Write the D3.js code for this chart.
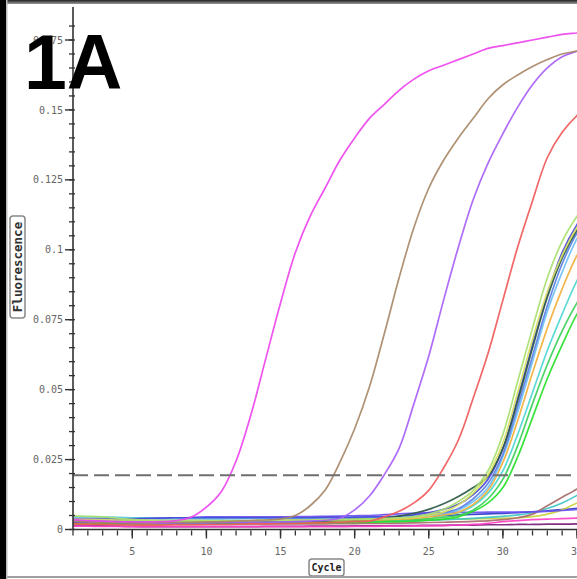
<!DOCTYPE html>
<html>
<head>
<meta charset="utf-8">
<script src="https://cdn.jsdelivr.net/npm/d3@7"></script>
<style>
  html, body { margin: 0; padding: 0; background: #ffffff; }
  svg { display: block; }
</style>
</head>
<body>
<div id="chart"></div>
<script>
// Amplification run: fluorescence per cycle for each well
const cycles = [1,2,3,4,5,6,7,8,9,10,11,12,13,14,15,16,17,18,19,20,21,22,23,24,25,26,27,28,29,30,31,32,33,34,35,36];

const yTicks = [0, 0.025, 0.05, 0.075, 0.1, 0.125, 0.15, 0.175];
const yTickLabels = ["0", "0.025", "0.05", "0.075", "0.1", "0.125", "0.15", "0.175"];
const xTicks = [5, 10, 15, 20, 25, 30, 35];
const xTickLabels = ["5", "10", "15", "20", "25", "30", "35"];
const threshold = 0.0194;

const wellMagenta = [0.0035,0.0032,0.003,0.0028,0.0027,0.0027,0.0028,0.0032,0.0045,0.008,0.0135,0.0245,0.041,0.061,0.081,0.099,0.112,0.122,0.132,0.140,0.147,0.152,0.157,0.161,0.164,0.166,0.168,0.170,0.172,0.173,0.174,0.175,0.176,0.177,0.1775,0.178];
const wellBrown = [0.003,0.0028,0.0026,0.0025,0.0024,0.0024,0.0025,0.0025,0.0026,0.0027,0.0028,0.003,0.0032,0.0034,0.0038,0.005,0.0085,0.014,0.024,0.036,0.051,0.070,0.090,0.108,0.122,0.132,0.140,0.147,0.154,0.159,0.1625,0.1655,0.168,0.170,0.171,0.172];
const wellPurple = [0.0028,0.0027,0.0026,0.0025,0.0024,0.0023,0.0023,0.0023,0.0024,0.0024,0.0025,0.0025,0.0026,0.0026,0.0027,0.0028,0.003,0.0033,0.004,0.007,0.012,0.0196,0.029,0.045,0.062,0.082,0.101,0.118,0.131,0.1415,0.151,0.159,0.165,0.169,0.171,0.173];
const wellRed = [0.002,0.0019,0.0018,0.0017,0.0016,0.0016,0.0016,0.0017,0.0017,0.0018,0.0018,0.0019,0.002,0.002,0.0021,0.0022,0.0023,0.0024,0.0026,0.0028,0.003,0.0045,0.0065,0.0095,0.014,0.022,0.032,0.047,0.063,0.082,0.101,0.1175,0.133,0.142,0.148,0.152];

const wellLightGreen = [0.0048,0.0047,0.0045,0.004,0.0036,0.0033,0.0031,0.003,0.003,0.003,0.003,0.0031,0.0031,0.0032,0.0032,0.0033,0.0033,0.0034,0.0035,0.0036,0.0037,0.0039,0.0042,0.0046,0.0055,0.0072,0.010,0.014,0.021,0.034,0.053,0.072,0.090,0.103,0.112,0.119];
const wellYellow = [0.0036,0.0036,0.0035,0.0034,0.0034,0.0033,0.0033,0.0033,0.0033,0.0032,0.0032,0.0032,0.0032,0.0033,0.0033,0.0034,0.0034,0.0035,0.0035,0.0036,0.0037,0.0038,0.004,0.0043,0.005,0.0062,0.0088,0.013,0.0195,0.031,0.049,0.068,0.085,0.098,0.108,0.115];
const wellDarkGreen = [0.0026,0.0026,0.0025,0.0025,0.0024,0.0024,0.0024,0.0024,0.0025,0.0025,0.0025,0.0026,0.0026,0.0027,0.0028,0.0029,0.003,0.0031,0.0033,0.0035,0.0037,0.004,0.0048,0.0058,0.0072,0.0092,0.0118,0.015,0.019,0.029,0.046,0.065,0.083,0.097,0.107,0.114];
const wellDarkBlue = [0.0035,0.0035,0.0036,0.0037,0.0038,0.004,0.0041,0.0042,0.0042,0.0042,0.0042,0.0042,0.0042,0.0042,0.0042,0.0042,0.0042,0.0043,0.0043,0.0044,0.0045,0.0046,0.0048,0.0052,0.006,0.0072,0.009,0.0125,0.018,0.029,0.047,0.066,0.084,0.099,0.109,0.116];
const wellBlue = [0.003,0.003,0.0029,0.0029,0.0028,0.0028,0.0028,0.0028,0.0029,0.0029,0.003,0.003,0.0031,0.0031,0.0032,0.0032,0.0033,0.0034,0.0035,0.0036,0.0037,0.0039,0.0042,0.0046,0.0052,0.006,0.0075,0.011,0.0165,0.027,0.044,0.062,0.080,0.095,0.106,0.113];
const wellLightBlue = [0.0045,0.0044,0.0043,0.0042,0.004,0.0038,0.0037,0.0036,0.0036,0.0036,0.0037,0.0038,0.0039,0.004,0.004,0.0041,0.0041,0.0042,0.0042,0.0043,0.0043,0.0044,0.0045,0.0047,0.005,0.0058,0.007,0.010,0.015,0.026,0.042,0.060,0.078,0.092,0.104,0.112];
const wellOrange = [0.0025,0.0025,0.0025,0.0025,0.0026,0.0026,0.0026,0.0027,0.0027,0.0027,0.0028,0.0028,0.0028,0.0029,0.0029,0.003,0.003,0.0031,0.0032,0.0033,0.0034,0.0035,0.0037,0.004,0.0045,0.0052,0.0062,0.009,0.014,0.024,0.039,0.056,0.072,0.086,0.098,0.106];
const wellCyan = [0.0046,0.0045,0.0044,0.0043,0.0042,0.0041,0.0041,0.0041,0.0041,0.0041,0.0041,0.0041,0.0041,0.0041,0.0041,0.0042,0.0042,0.0042,0.0042,0.0043,0.0043,0.0044,0.0045,0.0046,0.0048,0.0052,0.006,0.0085,0.013,0.021,0.034,0.049,0.064,0.077,0.089,0.098];
const wellGreen = [0.0035,0.0034,0.0033,0.0032,0.0031,0.003,0.003,0.003,0.0029,0.0029,0.0029,0.0029,0.0029,0.003,0.003,0.003,0.0031,0.0031,0.0031,0.0032,0.0032,0.0033,0.0034,0.0036,0.0039,0.0044,0.005,0.007,0.011,0.018,0.030,0.045,0.059,0.071,0.081,0.089];
const wellBrightGreen = [0.002,0.002,0.002,0.002,0.002,0.0021,0.0021,0.0021,0.0021,0.0022,0.0022,0.0022,0.0022,0.0023,0.0023,0.0023,0.0024,0.0024,0.0025,0.0025,0.0026,0.0027,0.0028,0.003,0.0033,0.0037,0.0045,0.0065,0.0095,0.015,0.026,0.040,0.054,0.066,0.077,0.085];

const wellViolet = [0.004,0.004,0.004,0.004,0.004,0.004,0.004,0.004,0.0043,0.0045,0.0045,0.0045,0.0045,0.0045,0.0045,0.0046,0.0046,0.0047,0.0048,0.0049,0.005,0.0053,0.0056,0.0058,0.006,0.006,0.0061,0.0061,0.0062,0.0062,0.0062,0.0063,0.0065,0.0068,0.0072,0.0076];
const wellLateBrown = [0.0022,0.0022,0.0021,0.0021,0.002,0.002,0.002,0.002,0.002,0.002,0.002,0.002,0.002,0.002,0.002,0.002,0.002,0.002,0.0021,0.0021,0.0022,0.0022,0.0023,0.0024,0.0025,0.0026,0.0027,0.0029,0.0031,0.0035,0.0042,0.0055,0.0085,0.0115,0.0145,0.018];
const wellLateCyan = [0.0025,0.0025,0.0025,0.0024,0.0024,0.0024,0.0024,0.0024,0.0024,0.0024,0.0024,0.0024,0.0024,0.0025,0.0025,0.0025,0.0025,0.0026,0.0026,0.0027,0.0028,0.0029,0.003,0.0031,0.0033,0.0035,0.0037,0.004,0.0043,0.0047,0.0052,0.006,0.0075,0.0095,0.0122,0.0155];
const wellLateYellow = [0.003,0.003,0.003,0.003,0.003,0.003,0.003,0.0031,0.0031,0.0031,0.0031,0.0031,0.0031,0.0032,0.0032,0.0032,0.0032,0.0033,0.0033,0.0033,0.0034,0.0034,0.0035,0.0035,0.0036,0.0036,0.0037,0.0038,0.0039,0.004,0.0042,0.0046,0.0055,0.007,0.0095,0.012];
const wellLateBlue = [0.0028,0.0028,0.0028,0.0028,0.0028,0.0029,0.0029,0.0029,0.003,0.003,0.003,0.0031,0.0031,0.0032,0.0033,0.0034,0.0035,0.0036,0.0037,0.0038,0.004,0.0042,0.0044,0.0046,0.0048,0.005,0.0052,0.0054,0.0056,0.0058,0.006,0.0063,0.0067,0.0071,0.0076,0.0082];
const wellPink = [0.0012,0.0012,0.0011,0.0011,0.001,0.001,0.001,0.001,0.001,0.001,0.001,0.001,0.001,0.001,0.001,0.001,0.001,0.001,0.001,0.0011,0.0011,0.0012,0.0012,0.0013,0.0013,0.0014,0.0016,0.0018,0.0022,0.0028,0.0032,0.0035,0.0037,0.0039,0.0041,0.0044];
const wellDarkPurple = [0.0015,0.0014,0.0013,0.0012,0.0011,0.001,0.001,0.001,0.001,0.001,0.001,0.001,0.001,0.0011,0.0011,0.0011,0.0012,0.0012,0.0012,0.0013,0.0013,0.0013,0.0014,0.0014,0.0015,0.0015,0.0016,0.0016,0.0017,0.0017,0.0018,0.0018,0.0019,0.0019,0.002,0.002];

// Drawing order (back to front) with trace colours
const wells = [
  { values: wellDarkPurple, color: "#7a1f7a" },
  { values: wellPink, color: "#ff40c8" },
  { values: wellLateBlue, color: "#2b3bc8" },
  { values: wellLateYellow, color: "#cad23e" },
  { values: wellLateCyan, color: "#3ec4c4" },
  { values: wellLateBrown, color: "#a86a6a" },
  { values: wellViolet, color: "#6a50f0" },
  { values: wellBrightGreen, color: "#28e02a" },
  { values: wellGreen, color: "#3ccf5a" },
  { values: wellCyan, color: "#4fd6d2" },
  { values: wellOrange, color: "#f2b03c" },
  { values: wellLightBlue, color: "#6fc0f4" },
  { values: wellBlue, color: "#5b7fe6" },
  { values: wellDarkBlue, color: "#4848d8" },
  { values: wellDarkGreen, color: "#2d5a46" },
  { values: wellYellow, color: "#d8e060" },
  { values: wellLightGreen, color: "#a8e070" },
  { values: wellRed, color: "#f05a5a" },
  { values: wellPurple, color: "#a860f8" },
  { values: wellBrown, color: "#a88868" },
  { values: wellMagenta, color: "#ee44ee" }
];

const W = 577, H = 579;
const svg = d3.select("#chart").append("svg")
  .attr("width", W).attr("height", H)
  .style("overflow", "hidden");

svg.append("rect").attr("width", W).attr("height", H).attr("fill", "#ffffff");

const x = d3.scaleLinear().domain([1, 35]).range([73, 577]);
const y = d3.scaleLinear().domain([0, 0.175]).range([529.5, 40]);

// plot clip
svg.append("defs").append("clipPath").attr("id", "plotClip")
  .append("rect").attr("x", x(1)).attr("y", 0).attr("width", W - x(1)).attr("height", y(0));

const line = d3.line()
  .x((d, i) => x(cycles[i]))
  .y(d => y(d))
  .curve(d3.curveCatmullRom.alpha(0.5));

const traces = svg.append("g").attr("clip-path", "url(#plotClip)");
traces.selectAll("path.well")
  .data(wells)
  .join("path")
  .attr("class", "well")
  .attr("d", d => line(d.values))
  .attr("fill", "none")
  .attr("stroke", d => d.color)
  .attr("stroke-width", 1.7)
  .attr("stroke-opacity", 0.92)
  .attr("stroke-linejoin", "round");

// threshold
traces.append("line")
  .attr("x1", x(1)).attr("x2", W)
  .attr("y1", y(threshold)).attr("y2", y(threshold))
  .attr("stroke", "#6f6f6f")
  .attr("stroke-width", 2)
  .attr("stroke-dasharray", "15,6");

// Y axis
const yAxisG = svg.append("g").attr("transform", `translate(${x(1)},0)`);
yAxisG.append("line").attr("x1", 0).attr("x2", 0).attr("y1", 7).attr("y2", y(0) + 1)
  .attr("stroke", "#333").attr("stroke-width", 1.6);
const yMinor = d3.range(0, 37).map(i => i * 0.005).filter(v => y(v) > 6);
yAxisG.selectAll("line.minor").data(yMinor).join("line")
  .attr("class", "minor")
  .attr("x1", -4).attr("x2", 2)
  .attr("y1", d => y(d)).attr("y2", d => y(d))
  .attr("stroke", "#333").attr("stroke-width", 1.3);
yAxisG.selectAll("line.major").data(yTicks).join("line")
  .attr("class", "major")
  .attr("x1", -8).attr("x2", 0)
  .attr("y1", d => y(d)).attr("y2", d => y(d))
  .attr("stroke", "#333").attr("stroke-width", 1.4);
yAxisG.selectAll("text").data(yTicks).join("text")
  .attr("x", -10).attr("y", d => y(d))
  .attr("dy", "0.36em")
  .attr("text-anchor", "end")
  .attr("font-family", "DejaVu Sans Mono, monospace")
  .attr("font-size", 10)
  .attr("fill", "#666")
  .text((d, i) => yTickLabels[i]);

// X axis
const xAxisG = svg.append("g").attr("transform", `translate(0,${y(0)})`);
xAxisG.append("line").attr("x1", x(1)).attr("x2", W).attr("y1", 0).attr("y2", 0)
  .attr("stroke", "#333").attr("stroke-width", 1.6);
const xMinor = cycles.filter(c => c <= 35);
xAxisG.selectAll("line.minor").data(xMinor).join("line")
  .attr("class", "minor")
  .attr("x1", d => x(d)).attr("x2", d => x(d))
  .attr("y1", 1).attr("y2", 6)
  .attr("stroke", "#333").attr("stroke-width", 1.3);
xAxisG.selectAll("line.major").data(xTicks).join("line")
  .attr("class", "major")
  .attr("x1", d => x(d)).attr("x2", d => x(d))
  .attr("y1", 0).attr("y2", 9)
  .attr("stroke", "#333").attr("stroke-width", 1.4);
xAxisG.selectAll("text").data(xTicks).join("text")
  .attr("x", d => x(d)).attr("y", 25)
  .attr("text-anchor", "middle")
  .attr("font-family", "DejaVu Sans Mono, monospace")
  .attr("font-size", 10)
  .attr("fill", "#666")
  .text((d, i) => xTickLabels[i]);

// axis titles in boxes
const yTitle = svg.append("g").attr("transform", "translate(17.5,267) rotate(-90)");
yTitle.append("rect").attr("x", -51).attr("y", -7.5).attr("width", 102).attr("height", 15)
  .attr("rx", 3).attr("fill", "#fff").attr("stroke", "#888").attr("stroke-width", 1.5);
yTitle.append("text").attr("x", 0).attr("y", 0).attr("dy", "0.36em")
  .attr("text-anchor", "middle")
  .attr("font-family", "DejaVu Sans Mono, monospace")
  .attr("font-size", 12.5).attr("font-weight", "bold").attr("fill", "#333")
  .text("Fluorescence");

const xTitle = svg.append("g").attr("transform", "translate(326.5,567.5)");
xTitle.append("rect").attr("x", -17.5).attr("y", -8.5).attr("width", 35).attr("height", 17)
  .attr("rx", 3).attr("fill", "#fff").attr("stroke", "#888").attr("stroke-width", 1.5);
xTitle.append("text").attr("x", 0).attr("y", 0).attr("dy", "0.36em")
  .attr("text-anchor", "middle")
  .attr("font-family", "DejaVu Sans Mono, monospace")
  .attr("font-size", 10).attr("font-weight", "bold").attr("fill", "#222")
  .text("Cycle");

// frame edges
const topGrad = svg.append("defs").append("linearGradient").attr("id", "topEdge")
  .attr("x1", 0).attr("y1", 0).attr("x2", 0).attr("y2", 1);
topGrad.append("stop").attr("offset", "0%").attr("stop-color", "#222");
topGrad.append("stop").attr("offset", "100%").attr("stop-color", "#9a9a9a");
svg.append("rect").attr("x", 0).attr("y", 0).attr("width", W).attr("height", 4).attr("fill", "url(#topEdge)");
svg.append("rect").attr("x", 0).attr("y", 576).attr("width", W).attr("height", 2).attr("fill", "#a0a0a0");
svg.append("rect").attr("x", 0).attr("y", 0).attr("width", 6).attr("height", H).attr("fill", "#000");
svg.append("rect").attr("x", 6).attr("y", 0).attr("width", 1.5).attr("height", H).attr("fill", "#bbb");

// panel label
svg.append("text")
  .attr("x", 24).attr("y", 89)
  .attr("font-family", "Liberation Sans, Arial, sans-serif")
  .attr("font-weight", "bold")
  .attr("font-size", 77)
  .attr("fill", "#000")
  .text("1A");
</script>
</body>
</html>
